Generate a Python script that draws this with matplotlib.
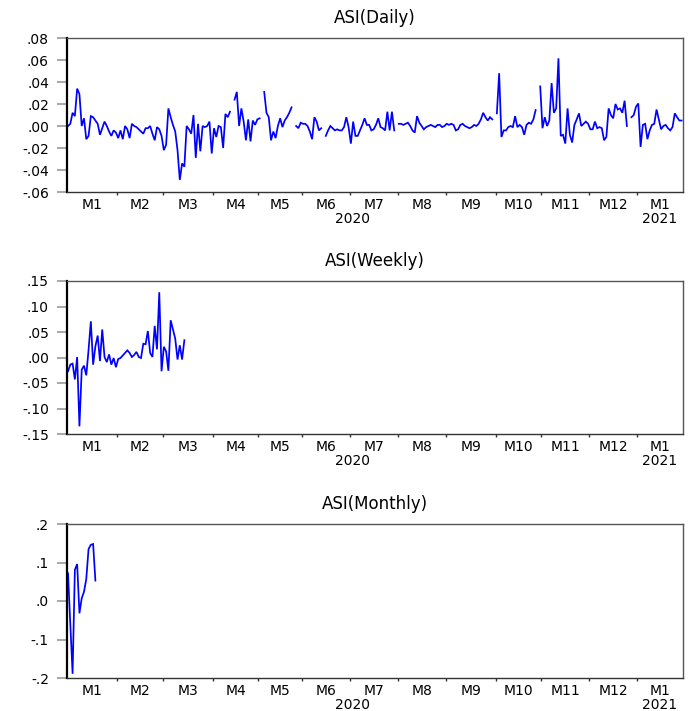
import numpy as np
import matplotlib
matplotlib.use("Agg")
import matplotlib.pyplot as plt
from matplotlib import transforms

# ---------------- data ----------------
month_labels = ["M1", "M2", "M3", "M4", "M5", "M6", "M7", "M8", "M9",
                "M10", "M11", "M12", "M1"]
month_days = [22, 20, 22, 20, 19, 21, 21, 21, 22, 20, 21, 21, 20]  # trading days
year_labels = ["2020", "2021"]
year_month_counts = [12, 1]

gap = [np.nan]
daily_jan_apr = [0.000, 0.002, 0.012, 0.009, 0.034, 0.029, 0.000, 0.007, -0.012, -0.009,
                 0.009, 0.008, 0.005, 0.002, -0.008, -0.002, 0.004, 0.000, -0.005, -0.009,
                 -0.004, -0.006, -0.011, -0.004, -0.012, 0.000, -0.003, -0.011, 0.002, 0.000,
                 -0.001, -0.003, -0.005, -0.007, -0.002, -0.002, 0.000, -0.007, -0.013, -0.001,
                 -0.003, -0.009, -0.022, -0.017, 0.016, 0.008, 0.001, -0.005, -0.022, -0.049,
                 -0.034, -0.037, 0.000, -0.003, -0.007, 0.010, -0.029, 0.002, -0.023, 0.000,
                 -0.001, 0.000, 0.004, -0.025, -0.002, -0.010, 0.000, -0.001, -0.020, 0.011,
                 0.008, 0.013]
daily_apr = [0.024, 0.031, 0.000, 0.016, 0.004, -0.013, 0.006, -0.014, 0.005, 0.001,
             0.006, 0.007]
daily_may = [0.031, 0.012, 0.008, -0.013, -0.005, -0.011, 0.000, 0.007, -0.001, 0.005,
             0.008, 0.012, 0.017]
daily_jun_a = [0.000, -0.002, 0.003, 0.002, 0.002, 0.000, -0.005, -0.012, 0.008, 0.004,
               -0.004, -0.002]
daily_jun_jul = [-0.009, -0.004, 0.000, -0.002, -0.004, -0.003, -0.004, -0.004, -0.001, 0.008,
                 -0.001, -0.016, 0.004, -0.009, -0.009, -0.004, 0.001, 0.007, 0.001, 0.001,
                 -0.004, -0.003, 0.001, 0.007, -0.001, -0.002, -0.004, 0.013, -0.004, 0.013,
                 -0.004]
daily_aug_sep = [0.002, 0.002, 0.001, 0.002, 0.003, 0.000, -0.004, -0.006, 0.009, 0.003,
                 0.000, -0.003, -0.001, 0.000, 0.001, 0.000, -0.001, 0.001, 0.001, -0.001,
                 0.000, 0.002, 0.001, 0.002, 0.001, -0.004, -0.003, 0.001, 0.002, 0.000,
                 -0.001, -0.002, -0.001, 0.001, 0.000, 0.002, 0.006, 0.012, 0.008, 0.005,
                 0.008, 0.006]
daily_oct = [0.0115, 0.048, -0.010, -0.004, -0.004, -0.001, 0.000, -0.001, 0.009, -0.001,
             0.001, -0.001, -0.008, 0.001, 0.003, 0.002, 0.006, 0.0145]
daily_nov_dec = [0.036, -0.002, 0.008, 0.000, 0.005, 0.039, 0.012, 0.016, 0.0615, -0.009,
                 -0.008, -0.016, 0.016, -0.008, -0.015, 0.001, 0.006, 0.0115, 0.000, 0.002,
                 0.004, 0.002, -0.003, -0.003, 0.004, -0.002, -0.001, -0.002, -0.013, -0.010,
                 0.016, 0.010, 0.007, 0.020, 0.015, 0.016, 0.012, 0.023, 0.000]
daily_dec_jan = [0.008, 0.010, 0.0175, 0.0205, -0.019, 0.001, 0.002, -0.012, -0.004, 0.001,
                 0.002, 0.015, 0.006, -0.003, 0.000, 0.001, -0.002, -0.004, -0.001, 0.0115,
                 0.008, 0.005, 0.005]

daily = np.array(daily_jan_apr + gap + daily_apr + gap + daily_may + gap + daily_jun_a + gap
                 + daily_jun_jul + gap + daily_aug_sep + gap + daily_oct + gap
                 + daily_nov_dec + gap + daily_dec_jan)

weekly = np.array([-0.027, -0.014, -0.012, -0.043, 0.001, -0.135, -0.024, -0.016, -0.035, 0.015,
                   0.071, -0.014, 0.022, 0.043, -0.007, 0.055, 0.001, -0.009, 0.006, -0.014,
                   -0.001, -0.019, -0.003, -0.001, 0.004, 0.009, 0.014, 0.009, 0.001, 0.005,
                   0.011, 0.001, -0.001, 0.027, 0.026, 0.052, 0.009, 0.001, 0.062, 0.016,
                   0.128, -0.027, 0.021, 0.012, -0.026, 0.073, 0.055, 0.037, -0.004, 0.024,
                   -0.004, 0.034])

monthly = np.array([0.072, -0.060, -0.189, 0.081, 0.096, -0.032, 0.007, 0.024, 0.057, 0.135,
                    0.146, 0.148, 0.053])

daily_ticks = [-0.06, -0.04, -0.02, 0.00, 0.02, 0.04, 0.06, 0.08]
weekly_ticks = [-0.15, -0.10, -0.05, 0.00, 0.05, 0.10, 0.15]
monthly_ticks = [-0.2, -0.1, 0.0, 0.1, 0.2]

# ---------------- figure ----------------
W, H = 690, 711
fig = plt.figure(figsize=(W / 100, H / 100), dpi=100)
FONT = "DejaVu Sans"
plt.rcParams["font.family"] = [FONT]

def fmt(v, d):
    s = f"{abs(v):.{d}f}"
    s = s.lstrip("0") if abs(v) < 1 else s
    return ("-" if v < -1e-12 else "") + s

bounds = np.cumsum([0] + month_days)
n_obs = bounds[-1]

panels = [
    ("ASI(Daily)", daily, daily_ticks, 2, 38, 192),
    ("ASI(Weekly)", weekly, weekly_ticks, 2, 281, 434),
    ("ASI(Monthly)", monthly, monthly_ticks, 1, 524, 678),
]

TICK_FS = 10
left_px, right_px = 67, 683
for title, series, ticks, dec, top_px, bot_px in panels:
    ax = fig.add_axes([left_px / W, 1 - bot_px / H,
                       (right_px - left_px) / W, (bot_px - top_px) / H])
    x = np.arange(len(series))
    ax.plot(x, series, color="#0000FF", lw=1.25, solid_joinstyle="miter")
    ax.set_xlim(-0.45, n_obs - 0.4)
    ax.set_ylim(ticks[0], ticks[-1])

    # y axis
    ax.set_yticks(ticks)
    ax.set_yticklabels([fmt(t, dec) for t in ticks], fontsize=TICK_FS, family=FONT)
    ax.tick_params(axis="y", direction="out", length=7, width=1.2, color="#9a9a9a",
                   pad=6)

    # x axis: month boundaries as major ticks, month names centred as minor ticks
    ax.set_xticks(bounds[1:-1] - 0.5)
    ax.set_xticklabels([])
    mids = (bounds[:-1] + bounds[1:]) / 2 - 0.5
    ax.set_xticks(mids, minor=True)
    ax.set_xticklabels(month_labels, minor=True, fontsize=TICK_FS, family=FONT)
    ax.tick_params(axis="x", which="major", direction="out", length=2.5, width=1.0,
                   color="#333333")
    ax.tick_params(axis="x", which="minor", length=0, pad=4)

    # year labels
    trans = transforms.offset_copy(ax.get_xaxis_transform(), fig=fig, y=-27, units="dots")
    m0 = 0
    for yl, cnt in zip(year_labels, year_month_counts):
        xm = (bounds[m0] + bounds[m0 + cnt]) / 2 - 0.5
        ax.text(xm, 0, yl, transform=trans, ha="center", va="center", fontsize=TICK_FS,
                family=FONT, clip_on=False)
        m0 += cnt

    # title
    ttrans = transforms.offset_copy(ax.transAxes, fig=fig, y=20, units="dots")
    ax.text(0.5, 1, title, transform=ttrans, ha="center", va="center", fontsize=12,
            family=FONT)

    # spines
    ax.spines["left"].set_color("black")
    ax.spines["left"].set_linewidth(1.6)
    ax.spines["bottom"].set_color("#333333")
    ax.spines["bottom"].set_linewidth(1.0)
    for s in ("top", "right"):
        ax.spines[s].set_color("#555555")
        ax.spines[s].set_linewidth(1.0)

fig.savefig("out.png", dpi=100, facecolor="white")
